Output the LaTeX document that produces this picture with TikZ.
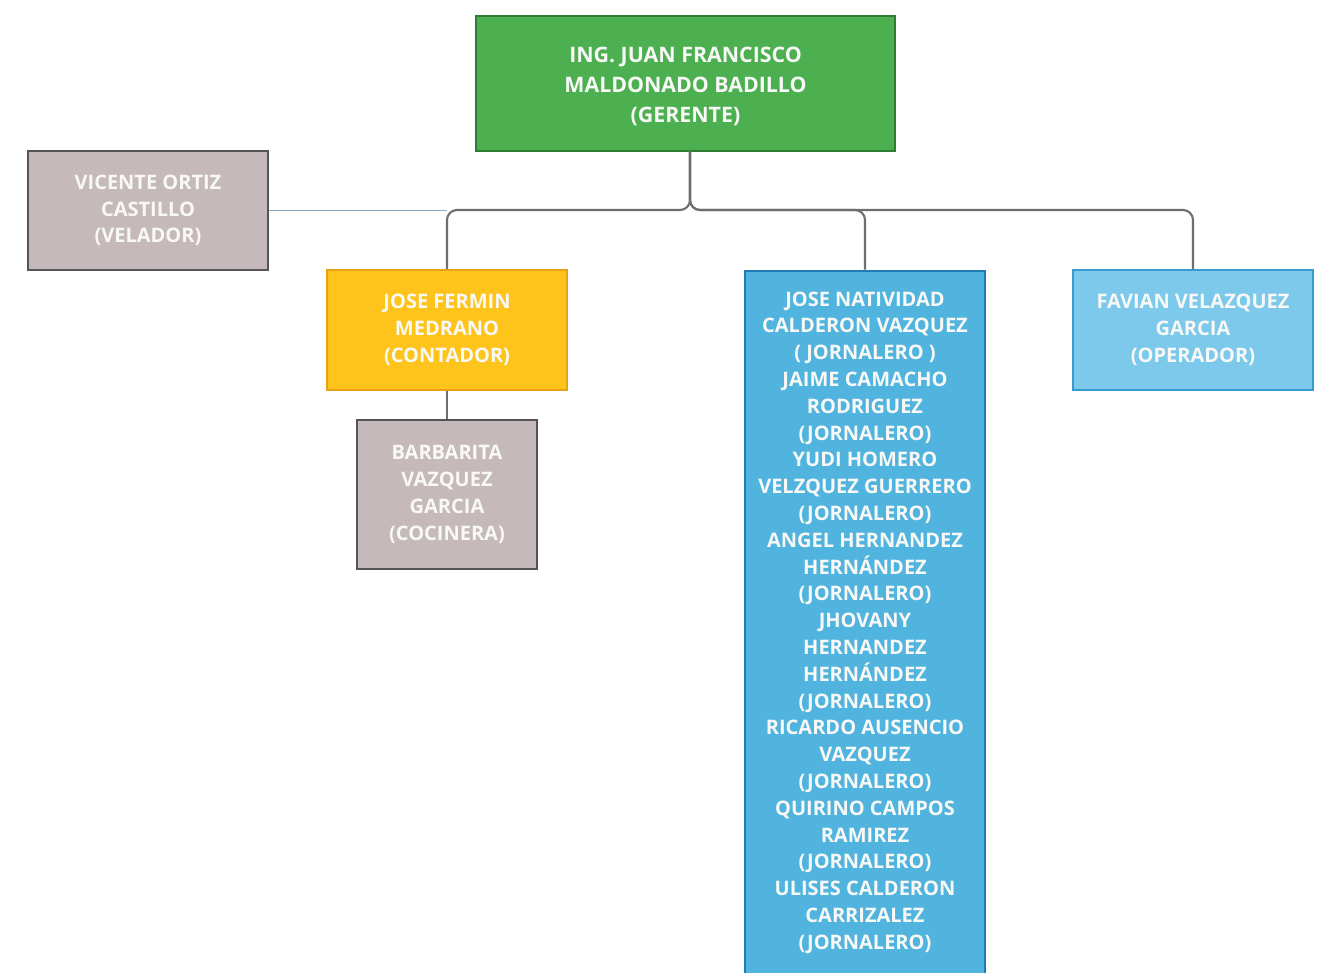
\documentclass[tikz,border=0pt]{standalone}
\usepackage{fontspec}
\setmainfont{Open Sans}
\definecolor{gfill}{RGB}{76,175,80}
\definecolor{gdraw}{RGB}{46,125,50}
\definecolor{pfill}{RGB}{197,185,187}
\definecolor{pdraw}{RGB}{85,85,85}
\definecolor{yfill}{RGB}{255,196,28}
\definecolor{ydraw}{RGB}{232,160,20}
\definecolor{bfill}{RGB}{80,180,222}
\definecolor{bdraw}{RGB}{30,125,180}
\definecolor{lfill}{RGB}{125,201,235}
\definecolor{ldraw}{RGB}{55,155,210}
\definecolor{conncol}{RGB}{110,110,110}
\definecolor{thincol}{RGB}{140,170,200}
\definecolor{txt}{RGB}{248,248,246}
\tikzset{
  box/.style={rectangle, line width=1.5pt, align=center, text=txt,
    font=\fontsize{15}{20.1}\selectfont\bfseries, inner sep=0pt},
  bigtext/.style={align=center, text=txt, inner sep=0pt,
    font=\fontsize{16}{22.2}\selectfont\bfseries},
  conn/.style={draw=conncol, line width=1.6pt, rounded corners=7.5pt},
  thin/.style={draw=thincol, line width=0.9pt}
}
\begin{document}
\begin{tikzpicture}[x=0.75pt,y=-0.75pt]
\useasboundingbox (0,0) rectangle (1329,972);
\fill[white] (0,0) rectangle (1329,972);
\node[box, fill=gfill, draw=gdraw, minimum width=314pt, minimum height=101pt] (g) at (685.5,83.5) {};
\node[bigtext] (gt) at (685.5,86.5) {ING. JUAN FRANCISCO\\MALDONADO BADILLO\\(GERENTE)};
\node[box, fill=pfill, draw=pdraw, minimum width=180pt, minimum height=89pt] (vic) at (148,210.5)
  {VICENTE ORTIZ\\CASTILLO\\(VELADOR)};
\node[box, fill=yfill, draw=ydraw, minimum width=180pt, minimum height=90pt] (yel) at (447,330)
  {JOSE FERMIN\\MEDRANO\\(CONTADOR)};
\node[box, fill=pfill, draw=pdraw, minimum width=135pt, minimum height=112pt] (bar) at (447,494.5)
  {BARBARITA\\VAZQUEZ\\GARCIA\\(COCINERA)};
\node[box, fill=bfill, draw=bdraw, minimum width=180pt, minimum height=528pt] (blu) at (865,622.5)
  {JOSE NATIVIDAD\\CALDERON VAZQUEZ\\( JORNALERO )\\JAIME CAMACHO\\RODRIGUEZ\\(JORNALERO)\\
   YUDI HOMERO\\VELZQUEZ GUERRERO\\(JORNALERO)\\ANGEL HERNANDEZ\\HERNÁNDEZ\\(JORNALERO)\\
   JHOVANY\\HERNANDEZ\\HERNÁNDEZ\\(JORNALERO)\\RICARDO AUSENCIO\\VAZQUEZ\\(JORNALERO)\\
   QUIRINO CAMPOS\\RAMIREZ\\(JORNALERO)\\ULISES CALDERON\\CARRIZALEZ\\(JORNALERO)};
\node[box, fill=lfill, draw=ldraw, minimum width=180pt, minimum height=90pt] (fav) at (1193,330)
  {FAVIAN VELAZQUEZ\\GARCIA\\(OPERADOR)};
\coordinate (bus) at (690,210);
\coordinate (trunk) at (690,151);
\draw[thin] (vic.east) -- (yel.north |- vic.east);
\draw[conn] (trunk) -- (bus) -- (yel.north |- bus) -- (yel.north);
\draw[conn] (trunk) -- (bus) -- (blu.north |- bus) -- (blu.north);
\draw[conn] (trunk) -- (bus) -- (fav.north |- bus) -- (fav.north);
\draw[conn] (yel.south) -- (bar.north);
\end{tikzpicture}
\end{document}
